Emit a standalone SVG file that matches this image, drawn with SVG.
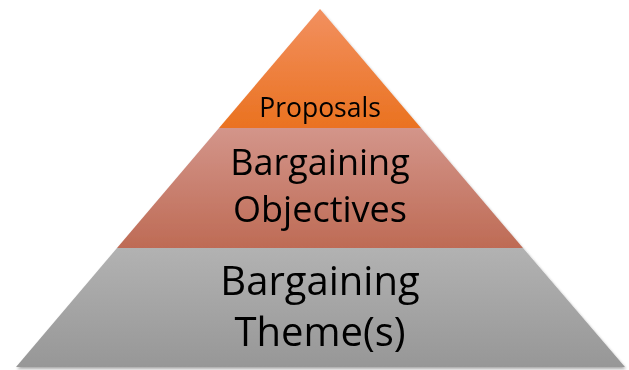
<svg xmlns="http://www.w3.org/2000/svg" width="629" height="370" viewBox="0 0 629 370">
<defs>
<linearGradient id="gO" x1="0" y1="0" x2="0" y2="1"><stop offset="0" stop-color="#F29060"/><stop offset="1" stop-color="#EA7220"/></linearGradient>
<linearGradient id="gP" x1="0" y1="0" x2="0" y2="1"><stop offset="0" stop-color="#D3958A"/><stop offset="1" stop-color="#BE6B55"/></linearGradient>
<linearGradient id="gG" x1="0" y1="0" x2="0" y2="1"><stop offset="0" stop-color="#B2B2B2"/><stop offset="1" stop-color="#979797"/></linearGradient>
<filter id="sh" x="-5%" y="-5%" width="110%" height="110%"><feGaussianBlur in="SourceAlpha" stdDeviation="1.5"/><feOffset dx="1" dy="1.5"/><feComponentTransfer><feFuncA type="linear" slope="0.35"/></feComponentTransfer><feMerge><feMergeNode/><feMergeNode in="SourceGraphic"/></feMerge></filter>
</defs>
<style>
text{font-family:"Open Sans","Noto Sans",sans-serif;fill:#000;text-anchor:middle}
.s{font-size:26.5px}
.m{font-size:36px}
.l{font-size:40px}
</style>
<g filter="url(#sh)">
<g id="proposals">
<polygon points="320,9 421,128 219,128" fill="url(#gO)"/>
<text class="s" x="320" y="117">Proposals</text>
</g>
<g id="objectives">
<polygon points="219,128 421,128 523,248 117,248" fill="url(#gP)"/>
<text class="m" x="320" y="175">Bargaining</text>
<text class="m" x="320" y="222">Objectives</text>
</g>
<g id="themes">
<polygon points="117,248 523,248 625,367 16,367" fill="url(#gG)"/>
<text class="l" x="320" y="295">Bargaining</text>
<text class="l" x="320" y="346">Theme(s)</text>
</g>
</g>
</svg>
